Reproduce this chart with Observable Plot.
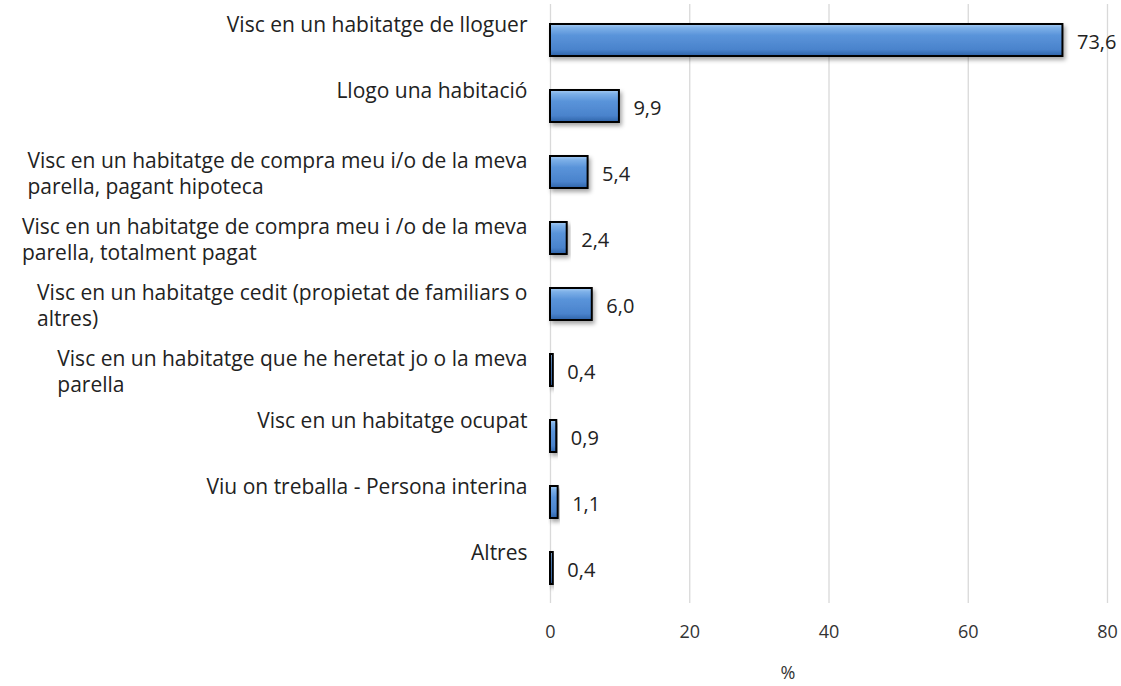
<!DOCTYPE html>
<html>
<head>
<meta charset="utf-8">
<script src="https://cdn.jsdelivr.net/npm/d3@7"></script>
<script src="https://cdn.jsdelivr.net/npm/@observablehq/plot@0.6"></script>
<style>
  html, body { margin: 0; padding: 0; background: #fff; }
  #chart svg { display: block; }
</style>
</head>
<body>
<div id="chart"></div>
<script>
const categories = [
  "Visc en un habitatge de lloguer",
  "Llogo una habitació",
  "Visc en un habitatge de compra meu i/o de la meva\nparella, pagant hipoteca",
  "Visc en un habitatge de compra meu i /o de la meva\nparella, totalment pagat",
  "Visc en un habitatge cedit (propietat de familiars o\naltres)",
  "Visc en un habitatge que he heretat jo o la meva\nparella",
  "Visc en un habitatge ocupat",
  "Viu on treballa - Persona interina",
  "Altres"
];
const values = [73.6, 9.9, 5.4, 2.4, 6.0, 0.4, 0.9, 1.1, 0.4];
const xTicks = [0, 20, 40, 60, 80];
const axisLabel = "%";

const data = categories.map((c, i) => ({label: c, value: values[i]}));
const fmt = v => v.toFixed(1).replace(".", ",");
const FONT = "'Open Sans', sans-serif";

const chart = Plot.plot({
  width: 1121,
  height: 686,
  marginLeft: 550,
  marginRight: 14,
  marginTop: 4,
  marginBottom: 83,
  style: {fontFamily: FONT, fontSize: "21px", color: "#222", background: "#fff"},
  x: {domain: [0, 80], ticks: xTicks, label: null},
  y: {domain: categories, paddingInner: 0.52, paddingOuter: 0.26, axis: null},
  marks: [
    Plot.gridX(xTicks, {stroke: "#d9d9d9", strokeOpacity: 1, strokeWidth: 1.3}),
    Plot.axisX(xTicks, {tickSize: 0, tickPadding: 22, fontSize: 18, fill: "#333", tickFormat: d => String(d), label: null}),
    Plot.barX(data, {x: "value", y: "label", fill: "url(#barGrad)", stroke: "#000", strokeWidth: 2, className: "bars"}),
    Plot.text(data, {x: "value", y: "label", text: d => fmt(d.value), textAnchor: "start", dx: 14, dy: 2, fill: "#222", fontSize: 20}),
    Plot.text(data.filter(d => !d.label.includes("\n")), {y: "label", text: "label", frameAnchor: "left", textAnchor: "end", dx: -23, dy: -15, fill: "#222", fontSize: 21}),
    Plot.text(data.filter(d => d.label.includes("\n")), {y: "label", text: "label", frameAnchor: "left", textAnchor: "end", dx: -23, dy: 0, lineHeight: 1.24, fill: "#222", fontSize: 21, className: "multi"}),
    Plot.text([axisLabel], {frameAnchor: "bottom", dx: -41, dy: 75, text: d => d, fill: "#333", fontSize: 18})
  ]
});

// gradient + shadow definitions
const ns = "http://www.w3.org/2000/svg";
const defs = document.createElementNS(ns, "defs");
defs.innerHTML = `
  <linearGradient id="barGrad" x1="0" y1="0" x2="0" y2="1">
    <stop offset="0" stop-color="#a8cdf3"/>
    <stop offset="0.12" stop-color="#7db0e8"/>
    <stop offset="0.35" stop-color="#5a94da"/>
    <stop offset="0.8" stop-color="#4a83cc"/>
    <stop offset="1" stop-color="#2f62a8"/>
  </linearGradient>
  <filter id="shadow" x="-20%" y="-20%" width="140%" height="160%">
    <feDropShadow dx="2" dy="3" stdDeviation="2" flood-color="#000" flood-opacity="0.35"/>
  </filter>`;
chart.insertBefore(defs, chart.firstChild);
document.getElementById("chart").appendChild(chart);

chart.querySelectorAll("g.bars rect").forEach(r => r.setAttribute("filter", "url(#shadow)"));

// left-align lines of wrapped labels inside their right-aligned block
chart.querySelectorAll("g.multi text").forEach(t => {
  const bb = t.getBBox();
  t.setAttribute("text-anchor", "start");
  t.querySelectorAll("tspan").forEach(ts => ts.setAttribute("x", bb.x));
});
</script>
</body>
</html>
